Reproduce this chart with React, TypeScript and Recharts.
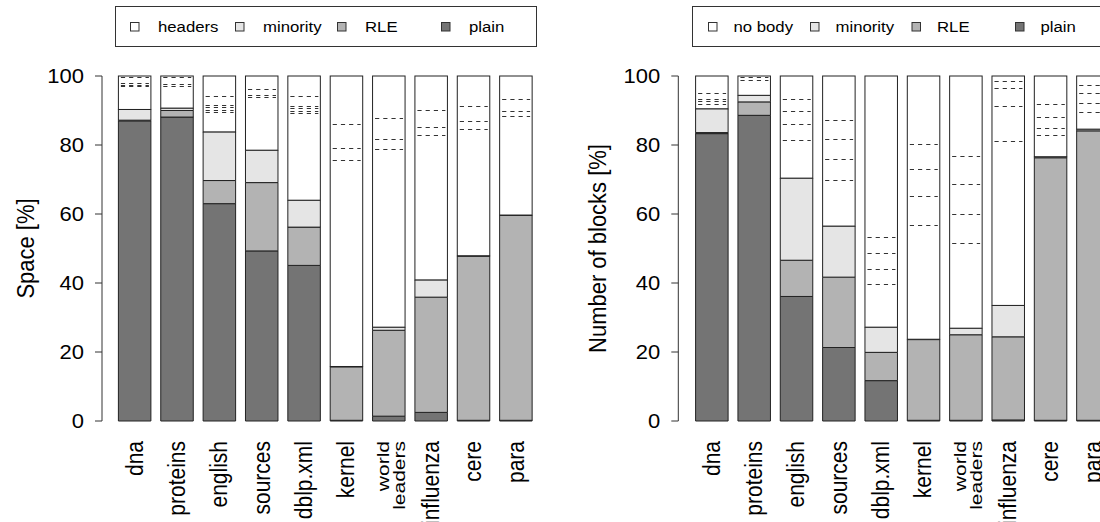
import React from 'react';
import { BarChart, Bar, XAxis, YAxis } from 'recharts';

// ---------- data ----------
const categories = ['dna', 'proteins', 'english', 'sources', 'dblp.xml', 'kernel', 'world leaders', 'influenza', 'cere', 'para'];
const yTicks = [0, 20, 40, 60, 80, 100];

// Left panel: Space [%]
const spacePlain = [87.0, 88.1, 63.0, 49.3, 45.1, 0.2, 1.4, 2.5, 0.2, 0.2];
const spaceRLE = [0.2, 1.9, 6.7, 19.8, 11.1, 15.5, 24.9, 33.4, 47.6, 59.4];
const spaceMinority = [3.1, 0.7, 14.1, 9.4, 7.8, 0.1, 0.9, 5.0, 0.1, 0.1];
const spaceHeaders = [9.7, 9.3, 16.2, 21.5, 36.0, 84.2, 72.8, 59.1, 52.1, 40.3];
const spaceDashes = [
  [99.7, 98.1, 97.5, 97.1],
  [99.7, 97.7, 97.2],
  [94.1, 91.5, 91.1, 90.1, 89.6],
  [96.3, 94.6, 93.8],
  [94.1, 91.2, 90.8, 89.8, 89.4],
  [86.0, 79.0, 75.6],
  [87.9, 81.8, 78.8],
  [90.1, 85.2, 82.8],
  [91.4, 87.0, 84.7],
  [93.2, 89.9, 88.3],
];
const spaceLegend = ['headers', 'minority', 'RLE', 'plain'];

// Right panel: Number of blocks [%]
const blocksPlain = [83.3, 88.6, 36.1, 21.3, 11.7, 0.2, 0.2, 0.3, 0.2, 0.2];
const blocksRLE = [0.3, 3.9, 10.5, 20.4, 8.2, 23.4, 24.8, 24.1, 76.1, 83.9];
const blocksMinority = [6.9, 1.9, 23.8, 14.8, 7.3, 0.1, 1.9, 9.1, 0.3, 0.5];
const blocksNoBody = [9.5, 5.6, 29.6, 43.5, 72.8, 76.3, 73.1, 66.5, 23.4, 15.4];
const blocksDashes = [
  [95.2, 93.4, 92.8, 92.0],
  [99.6, 98.9],
  [93.2, 89.9, 86.0, 81.4],
  [87.2, 81.7, 75.9, 70.0],
  [53.2, 48.6, 44.2, 39.8],
  [80.2, 73.0, 65.1, 56.7],
  [76.9, 68.7, 60.1, 51.7],
  [98.5, 96.4, 91.4, 81.3],
  [91.8, 88.1, 85.0, 83.0],
  [97.3, 95.2, 92.3, 89.6],
];
const blocksLegend = ['no body', 'minority', 'RLE', 'plain'];

// ---------- styles ----------
const FONT = '"Liberation Sans", Arial, Helvetica, sans-serif';
const C_PLAIN = '#747474';
const C_RLE = '#b3b3b3';
const C_MIN = '#e5e5e5';
const C_TOP = '#ffffff';
const STROKE = '#222222';
const SX = 1.1;

function buildRows(plain: number[], rle: number[], minority: number[], top: number[], dashes: number[][]) {
  return categories.map((name, i) => ({
    name,
    plain: plain[i],
    rle: rle[i],
    minority: minority[i],
    top: top[i],
    dashes: dashes[i],
  }));
}

const spaceRows = buildRows(spacePlain, spaceRLE, spaceMinority, spaceHeaders, spaceDashes);
const blocksRows = buildRows(blocksPlain, blocksRLE, blocksMinority, blocksNoBody, blocksDashes);

const TopShape = (props: any) => {
  const { x, y, width, height, payload } = props;
  if (width == null || height == null) return null;
  const base = payload.plain + payload.rle + payload.minority;
  const topVal = base + payload.top;
  const toY = (v: number) => y + ((topVal - v) / payload.top) * height;
  return (
    <g>
      <rect x={x} y={y} width={width} height={height} fill={C_TOP} stroke={STROKE} strokeWidth={1} />
      {payload.dashes.map((v: number, k: number) => {
        const yy = Math.round(toY(v)) + 0.5;
        return (
          <line
            key={k}
            x1={x + 2.5}
            x2={x + width - 2}
            y1={yy}
            y2={yy}
            stroke="#333"
            strokeWidth={1}
            strokeDasharray="4.2 4"
          />
        );
      })}
    </g>
  );
};

const YTick = (props: any) => {
  const { x, y, payload } = props;
  return (
    <g transform={`translate(${x},${y})`}>
      <text
        transform={`scale(${SX},1)`}
        textAnchor="end"
        dominantBaseline="central"
        fontSize={20}
        fill="#000"
        fontFamily={FONT}
      >
        {payload.value}
      </text>
    </g>
  );
};

const XTick = (props: any) => {
  const { x, payload } = props;
  const topY = 441;
  const fs = 21;
  const v: string = payload.value;
  if (v === 'world leaders') {
    const parts = v.split(' ');
    return (
      <g>
        <text transform={`translate(${x + 0.5},${topY}) scale(0.82,1) rotate(-90)`} textAnchor="end" fontSize={fs} fill="#000" fontFamily={FONT}>
          {parts[0]}
        </text>
        <text transform={`translate(${x + 16.5},${topY}) scale(0.82,1) rotate(-90)`} textAnchor="end" fontSize={fs} fill="#000" fontFamily={FONT}>
          {parts[1]}
        </text>
      </g>
    );
  }
  return (
    <text transform={`translate(${x + 8},${topY}) scale(${SX},1) rotate(-90)`} textAnchor="end" fontSize={fs} fill="#000" fontFamily={FONT}>
      {v}
    </text>
  );
};

const yTitle = (text: string, cx: number) => (props: any) => {
  const vb = props.viewBox || {};
  const cy = (vb.y ?? 76) + (vb.height ?? 346) / 2;
  return (
    <text
      transform={`translate(${cx},${cy}) scale(${SX},1) rotate(-90)`}
      textAnchor="middle"
      dominantBaseline="central"
      fontSize={22}
      fill="#000"
      fontFamily={FONT}
    >
      {text}
    </text>
  );
};

const LegendBox = ({ left, labels, sq, tx }: { left: number; labels: string[]; sq: number[]; tx: number }) => {
  const fills = [C_TOP, C_MIN, C_RLE, C_PLAIN];
  return (
    <svg style={{ position: 'absolute', left, top: 6 }} width={424} height={42}>
      <rect x={0.5} y={0.5} width={421} height={40} fill="#fff" stroke="#333" strokeWidth={1} />
      {labels.map((lab, i) => (
        <g key={lab}>
          <rect x={sq[i] + 0.5} y={16.5} width={8.5} height={8.5} fill={fills[i]} stroke="#333" strokeWidth={1} />
          <text
            transform={`translate(${sq[i] + tx},26.3) scale(1.08,1)`}
            fontSize={15.5}
            fill="#000"
            fontFamily={FONT}
          >
            {lab}
          </text>
        </g>
      ))}
    </svg>
  );
};

const Panel = ({ rows, title, titleX, axisW, pad, width }: any) => (
  <BarChart
    width={width}
    height={522}
    data={rows}
    margin={{ top: 76, right: 0, bottom: 0, left: 0 }}
    barSize={32.5}
  >
    <XAxis
      dataKey="name"
      axisLine={false}
      tickLine={false}
      interval={0}
      height={101}
      tick={<XTick />}
      padding={{ left: pad, right: 0 }}
    />
    <YAxis
      type="number"
      domain={[0, 100]}
      ticks={yTicks}
      width={axisW}
      tickSize={7}
      tickMargin={11}
      tick={<YTick />}
      axisLine={{ stroke: '#333', strokeWidth: 1 }}
      tickLine={{ stroke: '#333', strokeWidth: 1 }}
      label={yTitle(title, titleX)}
    />
    <Bar dataKey="plain" stackId="s" fill={C_PLAIN} stroke={STROKE} strokeWidth={1} isAnimationActive={false} />
    <Bar dataKey="rle" stackId="s" fill={C_RLE} stroke={STROKE} strokeWidth={1} isAnimationActive={false} />
    <Bar dataKey="minority" stackId="s" fill={C_MIN} stroke={STROKE} strokeWidth={1} isAnimationActive={false} />
    <Bar dataKey="top" stackId="s" fill={C_TOP} stroke={STROKE} strokeWidth={1} shape={<TopShape />} isAnimationActive={false} />
  </BarChart>
);

export default function App() {
  return (
    <div
      style={{
        position: 'absolute',
        left: 0,
        top: 0,
        width: 1100,
        height: 522,
        overflow: 'hidden',
        background: '#fff',
        fontFamily: FONT,
      }}
    >
      <div style={{ position: 'absolute', left: 0, top: 0 }}>
        <Panel rows={spaceRows} title="Space [%]" titleX={26} axisW={102} pad={11.4} width={537} />
      </div>
      <div style={{ position: 'absolute', left: 560, top: 0 }}>
        <Panel rows={blocksRows} title="Number of blocks [%]" titleX={38} axisW={118.3} pad={12.3} width={554} />
      </div>
      <LegendBox left={115} labels={spaceLegend} sq={[15, 120, 222, 326]} tx={28} />
      <LegendBox left={692} labels={blocksLegend} sq={[16, 118, 219.5, 323]} tx={25.5} />
    </div>
  );
}
